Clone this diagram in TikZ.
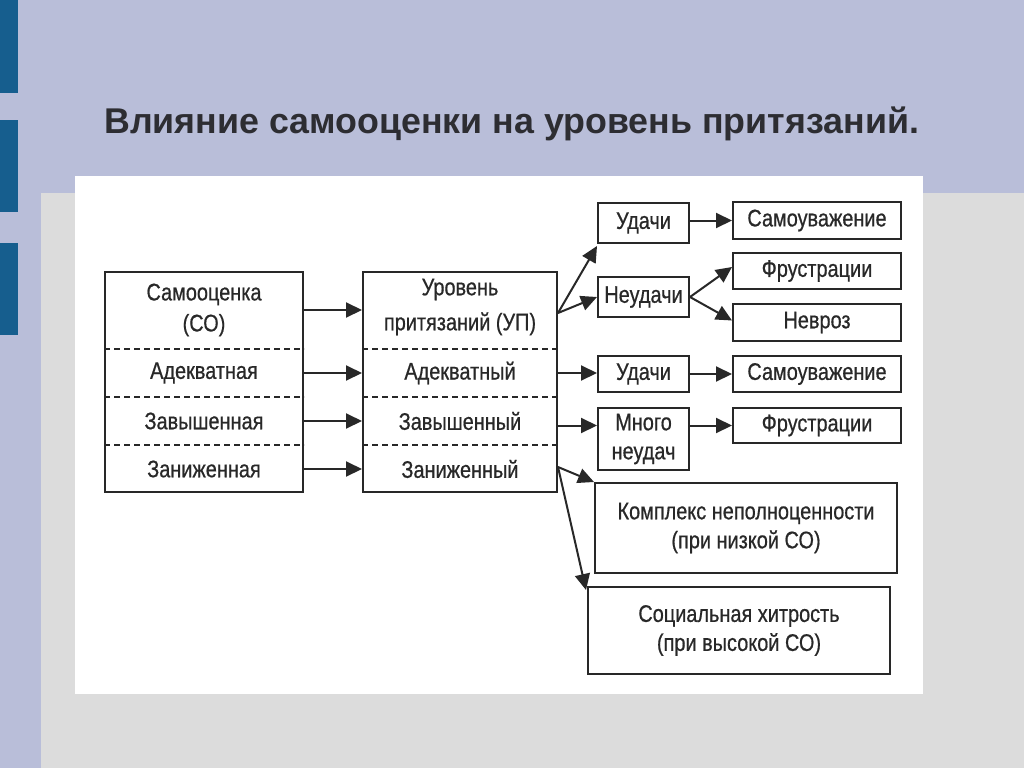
\documentclass[tikz,border=0pt]{standalone}
\usepackage{fontspec}
\setmainfont{Liberation Sans}
\newfontfamily\diagfont[FakeStretch=0.83,FakeBold=0.6]{Liberation Sans}
\usetikzlibrary{arrows.meta}
\definecolor{bgc}{RGB}{185,190,217}
\definecolor{barc}{RGB}{22,94,142}
\definecolor{greyc}{RGB}{220,220,220}
\definecolor{titlec}{RGB}{45,45,50}
\definecolor{ink}{RGB}{40,40,40}
\tikzset{
  box/.style={draw=ink, line width=2pt, inner sep=0pt, text=ink, align=center,
    font=\diagfont\fontsize{24}{29}\selectfont},
  rowtext/.style={inner sep=0pt, text=ink, align=center,
    font=\diagfont\fontsize{24}{31}\selectfont},
  arr/.style={draw=ink, line width=2pt, -{Triangle[length=16pt,width=15pt]}},
  dashline/.style={draw=ink, line width=1.7pt, dash pattern=on 6pt off 4pt},
}
\begin{document}
\begin{tikzpicture}[x=1pt,y=-1pt]
% background
\fill[bgc] (0,0) rectangle (1024,768);
\useasboundingbox (0,0) rectangle (1024,768);
\fill[barc] (0,0) rectangle (18,93);
\fill[barc] (0,120) rectangle (18,212);
\fill[barc] (0,243) rectangle (18,335);
\fill[greyc] (41,193) rectangle (1024,768);
\fill[white] (75,176) rectangle (923,694);
% title
\node[anchor=base west, inner sep=0pt, text=titlec,
  font=\bfseries\fontsize{35.8}{40}\selectfont] (title) at (104,133)
  {Влияние самооценки на уровень притязаний.};
% left big box
\node[box, minimum width=198pt, minimum height=220pt] (so) at (204,382) {};
\node[rowtext] (soT) at (204,310) {Самооценка\\(СО)};
\node[rowtext] (soA) at (204,373) {Адекватная};
\node[rowtext] (soB) at (204,421) {Завышенная};
\node[rowtext] (soC) at (204,469) {Заниженная};
% middle big box
\node[box, minimum width=194pt, minimum height=220pt] (up) at (460,382) {};
\node[rowtext, font=\diagfont\fontsize{24}{35}\selectfont] (upT) at (460,307) {Уровень\\притязаний (УП)};
\node[rowtext] (upA) at (460,373) {Адекватный};
\node[rowtext] (upB) at (460,421) {Завышенный};
\node[rowtext] (upC) at (460,469) {Заниженный};
% dashed separators
\coordinate (d1) at (0,349);
\coordinate (d2) at (0,397);
\coordinate (d3) at (0,445);
\foreach \d in {d1,d2,d3}{
  \draw[dashline] (so.west |- \d) -- (so.east |- \d);
  \draw[dashline] (up.west |- \d) -- (up.east |- \d);
}
% arrows left -> middle
\draw[arr] (so.east |- soT) -- (up.west |- soT);
\draw[arr] (so.east |- soA) -- (up.west |- soA);
\draw[arr] (so.east |- soB) -- (up.west |- soB);
\draw[arr] (so.east |- soC) -- (up.west |- soC);
% right boxes
\node[box, minimum width=91pt, minimum height=40pt] (ud1) at (643.5,223) {Удачи};
\node[box, minimum width=168pt, minimum height=37pt] (sam1) at (817,220.5) {Самоуважение};
\node[box, minimum width=91pt, minimum height=40pt] (neud) at (643.5,297) {Неудачи};
\node[box, minimum width=168pt, minimum height=36pt] (fru1) at (817,271) {Фрустрации};
\node[box, minimum width=168pt, minimum height=37pt] (nev) at (817,322.5) {Невроз};
\node[box, minimum width=91pt, minimum height=36pt] (ud2) at (643.5,374) {Удачи};
\node[box, minimum width=168pt, minimum height=36pt] (sam2) at (817,374) {Самоуважение};
\node[box, minimum width=91pt, minimum height=62pt] (mnogo) at (643.5,439) {Много\\неудач};
\node[box, minimum width=168pt, minimum height=35pt] (fru2) at (817,425.5) {Фрустрации};
\node[box, minimum width=302pt, minimum height=90pt] (kompl) at (746,528)
  {Комплекс неполноценности\\(при низкой СО)};
\node[box, minimum width=302pt, minimum height=87pt] (soc) at (739,630.5)
  {Социальная хитрость\\(при высокой СО)};
% branch points
\coordinate (b1) at (up.east |- 0,313);
\coordinate (b2) at (up.east |- 0,467);
\draw[arr] (b1) -- ([yshift=-2pt]ud1.south west);
\draw[arr] (b1) -- (neud.west);
\draw[arr] (up.east |- upA) -- (ud2.west |- upA);
\draw[arr] (up.east |- fru2) -- (mnogo.west |- fru2);
\draw[arr] (b2) -- (kompl.north west);
\draw[arr] (b2) -- ([xshift=-1pt,yshift=-4pt]soc.north west);
\draw[arr] (ud1.east |- sam1) -- (sam1.west);
\draw[arr] (neud.east) -- ([yshift=4pt]fru1.west);
\draw[arr] (neud.east) -- ([yshift=2pt]nev.west);
\draw[arr] (ud2.east) -- (sam2.west);
\draw[arr] (mnogo.east |- fru2) -- (fru2.west);
\end{tikzpicture}
\end{document}
